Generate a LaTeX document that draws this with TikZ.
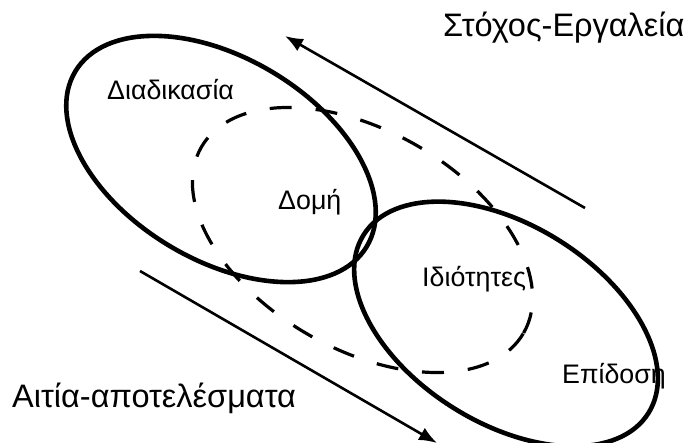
\documentclass[tikz,border=0pt]{standalone}
\usepackage{fontspec}
\setmainfont{Liberation Sans}
\usetikzlibrary{shapes.geometric,arrows.meta}
\begin{document}
\begin{tikzpicture}[x=1pt,y=-1pt,
  solidell/.style={draw=black, line width=4.6pt, ellipse, inner sep=0pt, outer sep=0pt},
  dashell/.style={draw=black, line width=3.2pt, ellipse, inner sep=0pt, outer sep=0pt, dash pattern=on 22pt off 24pt},
  arrowline/.style={draw=black, line width=2.6pt, -{Latex[length=18pt,width=14pt]}},
  lbl/.style={inner sep=0pt, anchor=base west, font=\fontsize{26.8}{32}\selectfont},
  biglbl/.style={inner sep=0pt, anchor=base west, font=\fontsize{32.5}{38}\selectfont}]
\useasboundingbox (0,0) rectangle (685,443);
\fill[white] (0,0) rectangle (685,443);
% ellipses
\node[dashell, minimum width=372pt, minimum height=218pt, rotate=-30] (struct) at (362.5,240) {};
\node[solidell, minimum width=340pt, minimum height=202pt, rotate=-31] (proc) at (221,159) {};
\node[solidell, minimum width=336pt, minimum height=198pt, rotate=-32] (perf) at (506,324) {};
% arrows
\coordinate (goalS) at (585,208);
\coordinate (goalE) at (285,36);
\coordinate (causeS) at (140,271);
\coordinate (causeE) at (437,443);
\draw[arrowline] (goalS) -- (goalE);
\draw[arrowline] (causeS) -- (causeE);
% labels
\node[biglbl] (goal) at (443,37) {Στόχος-Εργαλεία};
\node[biglbl] (cause) at (12,407) {Αιτία-αποτελέσματα};
\node[lbl] (l1) at (107,100) {Διαδικασία};
\node[lbl] (l2) at (278,210) {Δομή};
\node[lbl] (l3) at (422,287) {Ιδιότητες};
\node[lbl] (l4) at (562,383) {Επίδοση};
\end{tikzpicture}
\end{document}
